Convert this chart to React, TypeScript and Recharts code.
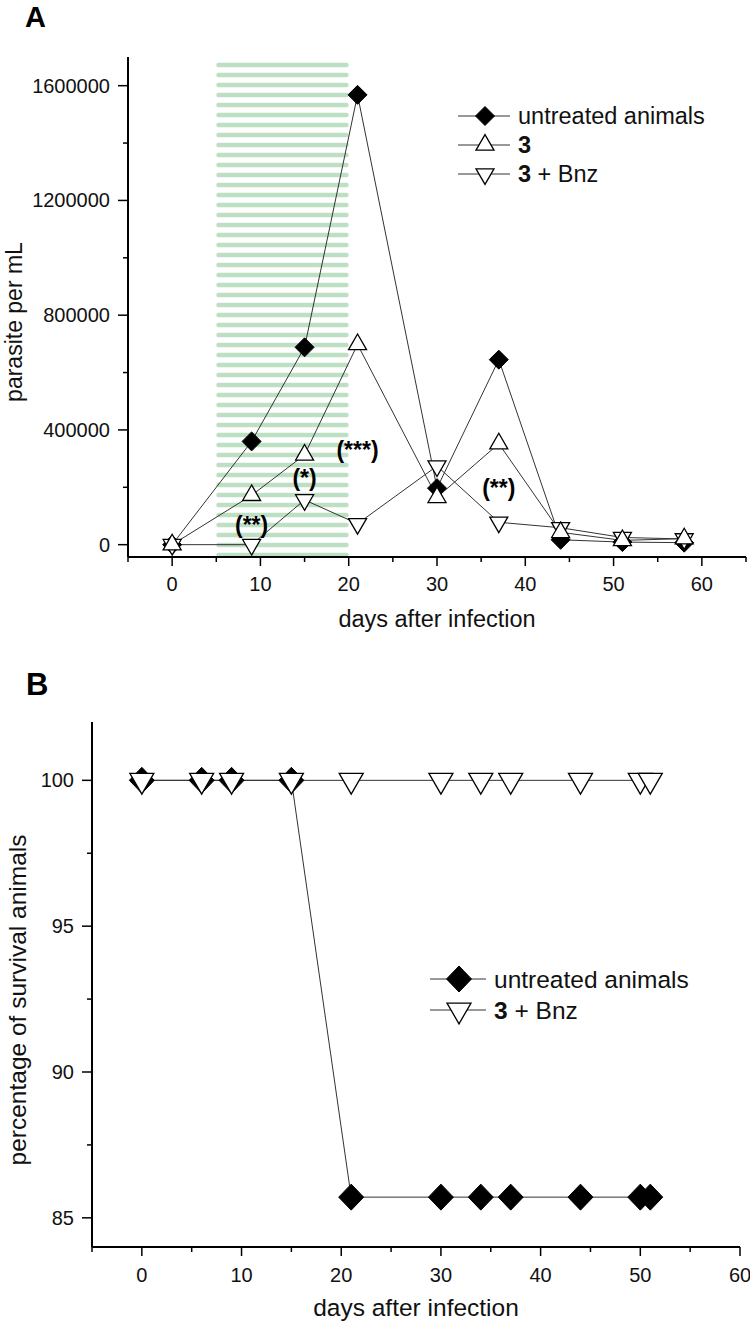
import React from 'react';
import { LineChart, Line, XAxis, YAxis, ReferenceArea, ReferenceDot, Legend } from 'recharts';

const FONT = '"Liberation Sans", Arial, Helvetica, sans-serif';

// ---------- Panel A data ----------
const daysA = [0, 9, 15, 21, 30, 37, 44, 51, 58];
const untreatedA = [0, 360000, 688000, 1568000, 197000, 645000, 17000, 9000, 7000];
const compound3A = [0, 172000, 313000, 698000, 165000, 352000, 43000, 15000, 21000];
const compound3BnzA = [0, 0, 156000, 73000, 274000, 78000, 59000, 25000, 20000];
const yTicksA = [0, 200000, 400000, 600000, 800000, 1000000, 1200000, 1400000, 1600000];
const yMajorA = [0, 400000, 800000, 1200000, 1600000];
const xTicksA = [-5, 0, 5, 10, 15, 20, 25, 30, 35, 40, 45, 50, 55, 60, 65];
const xMajorA = [0, 10, 20, 30, 40, 50, 60];
const treatmentStart = 5;
const treatmentEnd = 20;
const annotationDays = [9, 15, 21, 37];
const annotationValues = [67000, 231000, 329000, 196000];
const annotationTexts = ['(**)', '(*)', '(***)', '(**)'];

// ---------- Panel B data ----------
const daysB = [0, 6, 9, 15, 21, 30, 34, 37, 44, 50, 51];
const untreatedB = [100, 100, 100, 100, 85.71, 85.71, 85.71, 85.71, 85.71, 85.71, 85.71];
const compound3BnzB = [100, 100, 100, 100, 100, 100, 100, 100, 100, 100, 100];
const yTicksB = [85, 87.5, 90, 92.5, 95, 97.5, 100];
const yMajorB = [85, 90, 95, 100];
const xTicksB = [-5, 0, 5, 10, 15, 20, 25, 30, 35, 40, 45, 50, 55, 60];
const xMajorB = [0, 10, 20, 30, 40, 50, 60];

const dataA = daysA.map((d, i) => ({ day: d, untreated: untreatedA[i], c3: compound3A[i], c3bnz: compound3BnzA[i] }));
const dataB = daysB.map((d, i) => ({ day: d, untreated: untreatedB[i], c3bnz: compound3BnzB[i] }));

const LINE = '#333';

const Diamond = ({ cx, cy, w, h }: any) => (
  <polygon points={`${cx},${cy - h / 2} ${cx + w / 2},${cy} ${cx},${cy + h / 2} ${cx - w / 2},${cy}`} fill="#000" stroke="#000" strokeWidth={1} />
);
const TriUp = ({ cx, cy, w }: any) => {
  const h = w * 0.866;
  return <polygon points={`${cx},${cy - (2 * h) / 3} ${cx + w / 2},${cy + h / 3} ${cx - w / 2},${cy + h / 3}`} fill="#fff" stroke="#000" strokeWidth={1.3} />;
};
const TriDown = ({ cx, cy, w }: any) => {
  const h = w * 0.866;
  return <polygon points={`${cx},${cy + (2 * h) / 3} ${cx + w / 2},${cy - h / 3} ${cx - w / 2},${cy - h / 3}`} fill="#fff" stroke="#000" strokeWidth={1.3} />;
};

const makeYTick = (majors: number[], fontSize: number) => (p: any) => {
  const v = p.payload.value;
  const major = majors.includes(v);
  return (
    <g>
      <line x1={p.x} x2={p.x - (major ? 10 : 5)} y1={p.y} y2={p.y} stroke="#000" strokeWidth={1.5} />
      {major && (
        <text x={p.x - 18} y={p.y} textAnchor="end" dominantBaseline="central" fontSize={fontSize} fontFamily={FONT} fill="#111">
          {String(v)}
        </text>
      )}
    </g>
  );
};
const makeXTick = (majors: number[], fontSize: number, off: number) => (p: any) => {
  const v = p.payload.value;
  const major = majors.includes(v);
  return (
    <g>
      <line x1={p.x} x2={p.x} y1={p.y} y2={p.y + (major ? 9 : 5)} stroke="#000" strokeWidth={1.5} />
      {major && (
        <text x={p.x} y={p.y + off} textAnchor="middle" dominantBaseline="central" fontSize={fontSize} fontFamily={FONT} fill="#111">
          {String(v)}
        </text>
      )}
    </g>
  );
};

const Stripes = (p: any) => {
  const { x, y, width, height } = p;
  const rows: any[] = [];
  for (let yy = y; yy + 2 < y + height; yy += 10) {
    rows.push(<rect key={yy} x={x} y={yy} width={width} height={Math.min(4.4, y + height - yy)} rx={2.2} fill="#bddfc2" />);
  }
  return <g>{rows}</g>;
};

const label3 = (rest: string) => (
  <>
    <tspan fontWeight="bold">3</tspan>
    {rest}
  </>
);

const LegendA = () => {
  const rows = [
    { m: (cx: number, cy: number) => <Diamond cx={cx} cy={cy} w={19} h={19} />, t: <>untreated animals</> },
    { m: (cx: number, cy: number) => <TriUp cx={cx} cy={cy} w={18} />, t: label3('') },
    { m: (cx: number, cy: number) => <TriDown cx={cx} cy={cy} w={18} />, t: label3(' + Bnz') },
  ];
  return (
    <svg width={300} height={100} style={{ overflow: 'visible', display: 'block' }}>
      {rows.map((r, i) => {
        const cy = 15 + i * 29;
        return (
          <g key={i}>
            <line x1={0} x2={52} y1={cy} y2={cy} stroke={LINE} strokeWidth={1} />
            {r.m(27, cy)}
            <text x={60} y={cy} dominantBaseline="central" fontSize={23.5} fontFamily={FONT} fill="#111">
              {r.t}
            </text>
          </g>
        );
      })}
    </svg>
  );
};

const LegendB = () => {
  const rows = [
    { m: (cx: number, cy: number) => <Diamond cx={cx} cy={cy} w={25} h={26} />, t: <>untreated animals</> },
    { m: (cx: number, cy: number) => <TriDown cx={cx} cy={cy} w={24} />, t: label3(' + Bnz') },
  ];
  return (
    <svg width={300} height={80} style={{ overflow: 'visible', display: 'block' }}>
      {rows.map((r, i) => {
        const cy = 15 + i * 31;
        return (
          <g key={i}>
            <line x1={0} x2={56} y1={cy} y2={cy} stroke={LINE} strokeWidth={1} />
            {r.m(29, cy)}
            <text x={64} y={cy} dominantBaseline="central" fontSize={24.5} fontFamily={FONT} fill="#111">
              {r.t}
            </text>
          </g>
        );
      })}
    </svg>
  );
};

const ChartA = () => (
  <LineChart width={750} height={640} data={dataA} margin={{ top: 57, right: 4, left: 0, bottom: 0 }} style={{ fontFamily: FONT }}>
    <text x={25} y={27} fontSize={29} fontWeight="bold" fontFamily={FONT} fill="#000">A</text>
    <text transform="translate(22,322) rotate(-90)" textAnchor="middle" fontSize={23} fontFamily={FONT} fill="#111">parasite per mL</text>
    <text x={437} y={627} textAnchor="middle" fontSize={23.5} fontFamily={FONT} fill="#111">days after infection</text>
    <XAxis type="number" dataKey="day" domain={[-5, 65]} ticks={xTicksA} interval={0} height={83} tickSize={0} tickMargin={0} tickLine={false} axisLine={{ stroke: '#000', strokeWidth: 2 }} tick={makeXTick(xMajorA, 20, 27)} />
    <YAxis type="number" domain={[-43000, 1700000]} ticks={yTicksA} interval={0} width={128} tickSize={0} tickMargin={0} tickLine={false} axisLine={{ stroke: '#000', strokeWidth: 2 }} tick={makeYTick(yMajorA, 20)} />
    <ReferenceArea x1={treatmentStart} x2={treatmentEnd} y1={-43000} y2={1680000} shape={Stripes} ifOverflow="visible" />
    <Line dataKey="untreated" stroke={LINE} strokeWidth={1} isAnimationActive={false} activeDot={false}
      dot={(p: any) => <Diamond key={`u${p.index}`} cx={p.cx} cy={p.cy} w={19} h={19} />} />
    <Line dataKey="c3bnz" stroke={LINE} strokeWidth={1} isAnimationActive={false} activeDot={false}
      dot={(p: any) => <TriDown key={`d${p.index}`} cx={p.cx} cy={p.cy} w={18} />} />
    <Line dataKey="c3" stroke={LINE} strokeWidth={1} isAnimationActive={false} activeDot={false}
      dot={(p: any) => <TriUp key={`t${p.index}`} cx={p.cx} cy={p.cy} w={18} />} />
    {annotationDays.map((d, i) => (
      <ReferenceDot key={i} x={d} y={annotationValues[i]} r={0}
        shape={(p: any) => (
          <text x={p.cx} y={p.cy} textAnchor="middle" dominantBaseline="central" fontSize={23} fontWeight="bold" fontFamily={FONT} fill="#000">
            {annotationTexts[i]}
          </text>
        )} />
    ))}
    <Legend layout="vertical" align="center" verticalAlign="middle" content={() => <LegendA />}
      wrapperStyle={{ position: 'absolute', left: 458, top: 101, width: 300, height: 100 }} />
  </LineChart>
);

const ChartB = () => (
  <LineChart width={750} height={686} data={dataB} margin={{ top: 82, right: 10, left: 0, bottom: 0 }} style={{ fontFamily: FONT }}>
    <text x={26} y={55} fontSize={31} fontWeight="bold" fontFamily={FONT} fill="#000">B</text>
    <text transform="translate(26,360) rotate(-90)" textAnchor="middle" fontSize={24.5} fontFamily={FONT} fill="#111">percentage of survival animals</text>
    <text x={416} y={676} textAnchor="middle" fontSize={24.5} fontFamily={FONT} fill="#111">days after infection</text>
    <XAxis type="number" dataKey="day" domain={[-5, 60]} ticks={xTicksB} interval={0} height={79} tickSize={0} tickMargin={0} tickLine={false} axisLine={{ stroke: '#000', strokeWidth: 2 }} tick={makeXTick(xMajorB, 20, 27.5)} />
    <YAxis type="number" domain={[84, 102]} ticks={yTicksB} interval={0} width={92} tickSize={0} tickMargin={0} tickLine={false} axisLine={{ stroke: '#000', strokeWidth: 2 }} tick={makeYTick(yMajorB, 20)} />
    <Line dataKey="untreated" stroke={LINE} strokeWidth={1} isAnimationActive={false} activeDot={false}
      dot={(p: any) => <Diamond key={`u${p.index}`} cx={p.cx} cy={p.cy} w={25} h={26} />} />
    <Line dataKey="c3bnz" stroke={LINE} strokeWidth={1} isAnimationActive={false} activeDot={false}
      dot={(p: any) => <TriDown key={`d${p.index}`} cx={p.cx} cy={p.cy} w={24} />} />
    <Legend layout="vertical" align="center" verticalAlign="middle" content={() => <LegendB />}
      wrapperStyle={{ position: 'absolute', left: 430, top: 324, width: 300, height: 80 }} />
  </LineChart>
);

export default function App() {
  return (
    <div style={{ position: 'absolute', left: 0, top: 0, width: 750, height: 1326, background: '#fff', fontFamily: FONT }}>
      <div style={{ position: 'absolute', left: 0, top: 0 }}>
        <ChartA />
      </div>
      <div style={{ position: 'absolute', left: 0, top: 640 }}>
        <ChartB />
      </div>
    </div>
  );
}
